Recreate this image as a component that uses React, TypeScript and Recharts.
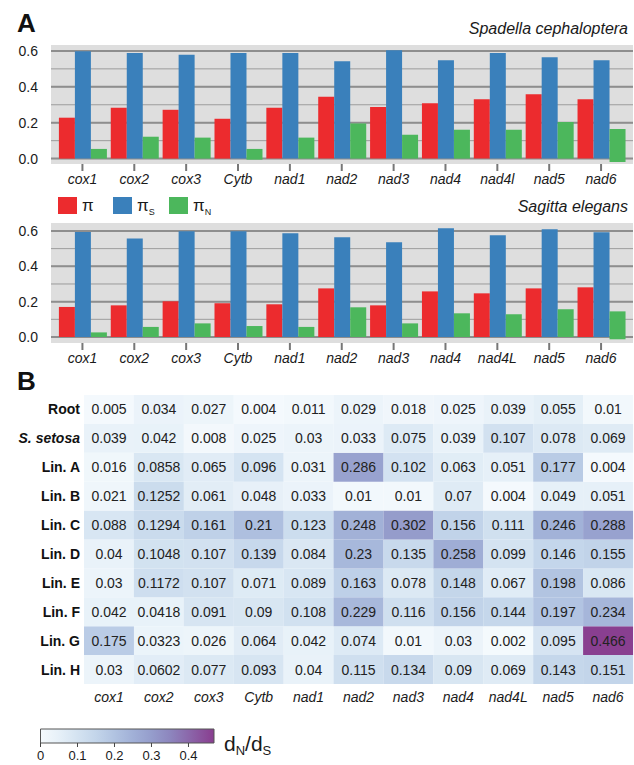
import React from 'react';
import { BarChart, Bar, XAxis, YAxis, CartesianGrid, Cell, LabelList } from 'recharts';

// ---------- Panel A data ----------
const genesSC = ['cox1', 'cox2', 'cox3', 'Cytb', 'nad1', 'nad2', 'nad3', 'nad4', 'nad4l', 'nad5', 'nad6'];
const piSC = [0.228, 0.283, 0.272, 0.222, 0.283, 0.344, 0.287, 0.309, 0.331, 0.359, 0.331];
const piSSC = [0.598, 0.589, 0.578, 0.589, 0.589, 0.543, 0.604, 0.548, 0.589, 0.565, 0.548];
const piNSC = [0.054, 0.122, 0.117, 0.054, 0.117, 0.196, 0.133, 0.161, 0.161, 0.204, 0.165];
const piNBaseSC = [0, 0, 0, -0.006, 0, 0, 0, 0, 0, 0, -0.019];

const genesSE = ['cox1', 'cox2', 'cox3', 'Cytb', 'nad1', 'nad2', 'nad3', 'nad4', 'nad4L', 'nad5', 'nad6'];
const piSE = [0.170, 0.179, 0.202, 0.191, 0.185, 0.275, 0.179, 0.258, 0.247, 0.275, 0.281];
const piSSE = [0.594, 0.558, 0.598, 0.598, 0.587, 0.564, 0.536, 0.615, 0.575, 0.609, 0.592];
const piNSE = [0.026, 0.057, 0.077, 0.062, 0.057, 0.168, 0.077, 0.134, 0.128, 0.157, 0.145];
const piNBaseSE = [0, 0, 0, 0, 0, 0, 0, 0, 0, 0, -0.013];

const yTicksA = [0, 0.1, 0.2, 0.3, 0.4, 0.5, 0.6];
const yMajorA = [0, 0.2, 0.4, 0.6];

const seriesA = [
  { key: 'pi', name: 'π', sub: '', color: '#ec2b2e' },
  { key: 'piS', name: 'π', sub: 'S', color: '#3a80bb' },
  { key: 'piN', name: 'π', sub: 'N', color: '#4cb75c' },
];

// ---------- Panel B data ----------
const genesB = ['cox1', 'cox2', 'cox3', 'Cytb', 'nad1', 'nad2', 'nad3', 'nad4', 'nad4L', 'nad5', 'nad6'];
const rowNames = ['Root', 'S. setosa', 'Lin. A', 'Lin. B', 'Lin. C', 'Lin. D', 'Lin. E', 'Lin. F', 'Lin. G', 'Lin. H'];
const rowRoot = [0.005, 0.034, 0.027, 0.004, 0.011, 0.029, 0.018, 0.025, 0.039, 0.055, 0.01];
const rowSsetosa = [0.039, 0.042, 0.008, 0.025, 0.03, 0.033, 0.075, 0.039, 0.107, 0.078, 0.069];
const rowLinA = [0.016, 0.0858, 0.065, 0.096, 0.031, 0.286, 0.102, 0.063, 0.051, 0.177, 0.004];
const rowLinB = [0.021, 0.1252, 0.061, 0.048, 0.033, 0.01, 0.01, 0.07, 0.004, 0.049, 0.051];
const rowLinC = [0.088, 0.1294, 0.161, 0.21, 0.123, 0.248, 0.302, 0.156, 0.111, 0.246, 0.288];
const rowLinD = [0.04, 0.1048, 0.107, 0.139, 0.084, 0.23, 0.135, 0.258, 0.099, 0.146, 0.155];
const rowLinE = [0.03, 0.1172, 0.107, 0.071, 0.089, 0.163, 0.078, 0.148, 0.067, 0.198, 0.086];
const rowLinF = [0.042, 0.0418, 0.091, 0.09, 0.108, 0.229, 0.116, 0.156, 0.144, 0.197, 0.234];
const rowLinG = [0.175, 0.0323, 0.026, 0.064, 0.042, 0.074, 0.01, 0.03, 0.002, 0.095, 0.466];
const rowLinH = [0.03, 0.0602, 0.077, 0.093, 0.04, 0.115, 0.134, 0.09, 0.069, 0.143, 0.151];
const rowsB = [rowRoot, rowSsetosa, rowLinA, rowLinB, rowLinC, rowLinD, rowLinE, rowLinF, rowLinG, rowLinH];

const scaleMax = 0.469;
const scaleTicks = [0, 0.1, 0.2, 0.3, 0.4];
const cmapStops: [number, string][] = [
  [0, '#f5fafd'], [0.05, '#e6f0f8'], [0.1, '#d4e3f1'], [0.15, '#c3d5ea'], [0.2, '#b1c3e1'],
  [0.25, '#a1b0d7'], [0.3, '#959dcc'], [0.35, '#8d86be'], [0.4, '#8b68ab'], [0.469, '#893d8f'],
];

function hexToRgb(h: string) {
  return [parseInt(h.slice(1, 3), 16), parseInt(h.slice(3, 5), 16), parseInt(h.slice(5, 7), 16)];
}
function colorFor(v: number) {
  if (v <= cmapStops[0][0]) return cmapStops[0][1];
  for (let i = 1; i < cmapStops.length; i++) {
    const [v1, c1] = cmapStops[i];
    const [v0, c0] = cmapStops[i - 1];
    if (v <= v1) {
      const t = (v - v0) / (v1 - v0);
      const a = hexToRgb(c0), b = hexToRgb(c1);
      const r = a.map((x, k) => Math.round(x + (b[k] - x) * t));
      return `rgb(${r[0]},${r[1]},${r[2]})`;
    }
  }
  return cmapStops[cmapStops.length - 1][1];
}

const FONT = '"Liberation Sans", Arial, Helvetica, sans-serif';
const TXT = '#1a1a1a';

function PiChart(props: any) {
  const { genes, pi, piS, piN, piNBase, domain, top, height, marginTop } = props;
  const data = genes.map((g: string, i: number) => ({ gene: g, pi: pi[i], piS: piS[i], piN: [piNBase[i], piN[i]] }));
  return (
    <div style={{ position: 'absolute', left: 0, top }}>
      <BarChart width={634} height={height} data={data} margin={{ top: marginTop, right: 1, bottom: 0, left: 0 }}
        barCategoryGap={2.4} barGap={0}>
        <CartesianGrid vertical={false} horizontalValues={yTicksA} fill="#dedede" fillOpacity={1} stroke="#9c9c9c" strokeWidth={1} />
        <CartesianGrid vertical={false} horizontalValues={yMajorA} stroke="#8e8e8e" strokeWidth={2} />
        <XAxis dataKey="gene" interval={0} padding={{ left: 5.5, right: 6 }} height={24} axisLine={false}
          tickSize={7} tickMargin={3} tickLine={{ stroke: '#777', strokeWidth: 2 }}
          tick={{ fontSize: 14, fontStyle: 'italic', fill: TXT, fontFamily: FONT }} />
        <YAxis type="number" domain={domain} allowDataOverflow ticks={yTicksA} width={51} axisLine={false}
          tickLine={false} tickSize={0} tickMargin={13}
          tickFormatter={(v: number) => (Math.round(v * 10) % 2 === 0 ? v.toFixed(1) : '')}
          tick={{ fontSize: 14, fill: TXT, fontFamily: FONT }} />
        {seriesA.map((s) => (
          <Bar key={s.key} dataKey={s.key} fill={s.color} isAnimationActive={false} />
        ))}
      </BarChart>
    </div>
  );
}

function Legend() {
  const xs = [58, 113, 169];
  return (
    <>
      {seriesA.map((s, i) => (
        <div key={s.key} style={{ position: 'absolute', left: xs[i], top: 197, height: 17, display: 'flex', alignItems: 'flex-start' }}>
          <div style={{ width: 19, height: 17, background: s.color }} />
          <div style={{ marginLeft: 5, fontSize: 17, lineHeight: '17px', color: TXT, fontFamily: FONT, whiteSpace: 'nowrap' }}>
            {s.name}{s.sub && <span style={{ fontSize: 9, lineHeight: '9px', verticalAlign: '-4px' }}>{s.sub}</span>}
          </div>
        </div>
      ))}
    </>
  );
}

function HeatCellLabel(props: any) {
  const { x, y, width, height, value } = props;
  return (
    <text x={x + width / 2} y={y + height / 2} textAnchor="middle" dominantBaseline="central"
      fontSize={14} fill="#222" fontFamily={FONT}>{String(value)}</text>
  );
}

function RowTick(props: any) {
  const { x, y, payload } = props;
  const name = rowNames[rowNames.length - 1 - Math.floor(payload.value)];
  return (
    <text x={x} y={y} textAnchor="end" dominantBaseline="central" fontSize={14} fontWeight="bold"
      fontStyle={name.startsWith('S.') ? 'italic' : 'normal'} fill="#111" fontFamily={FONT}>{name}</text>
  );
}

function Heatmap() {
  const data = genesB.map((g, i) => {
    const o: any = { gene: g };
    rowsB.forEach((row, r) => { o[`k${r}`] = 1; o[`v${r}`] = row[i]; });
    return o;
  });
  const stackOrder = rowsB.map((_, r) => r).reverse();
  const rowTicks = rowNames.map((_, i) => i + 0.5);
  return (
    <div style={{ position: 'absolute', left: 0, top: 380 }}>
      <BarChart width={634} height={330} data={data} margin={{ top: 15, right: 1, bottom: 0, left: 0 }}
        barCategoryGap={0} barGap={0}>
        <XAxis dataKey="gene" interval={0} height={26} axisLine={false} tickLine={false} tickSize={0} tickMargin={8}
          tick={{ fontSize: 14, fontStyle: 'italic', fill: TXT, fontFamily: FONT }} />
        <YAxis type="number" domain={[0, rowNames.length]} ticks={rowTicks} width={84} axisLine={false}
          tickLine={false} tickSize={0} tickMargin={4} tick={<RowTick />} />
        {stackOrder.map((r) => (
          <Bar key={r} dataKey={`k${r}`} stackId="h" isAnimationActive={false}>
            {data.map((d, i) => (
              <Cell key={i} fill={colorFor(d[`v${r}`])} />
            ))}
            <LabelList dataKey={`v${r}`} content={<HeatCellLabel />} />
          </Bar>
        ))}
      </BarChart>
    </div>
  );
}

function ColorBar() {
  const data = [{ name: 'scale', v: scaleMax }];
  return (
    <div style={{ position: 'absolute', left: 0, top: 722 }}>
      <BarChart width={260} height={43} data={data} layout="vertical"
        margin={{ top: 7, right: 46, bottom: 0, left: 40.5 }} barCategoryGap={0}>
        <defs>
          <linearGradient id="bupuGrad" x1="0" y1="0" x2="1" y2="0">
            {cmapStops.map(([v, c]) => (
              <stop key={v} offset={`${(v / scaleMax) * 100}%`} stopColor={c} />
            ))}
          </linearGradient>
        </defs>
        <XAxis type="number" domain={[0, scaleMax]} ticks={scaleTicks} height={22} axisLine={false}
          tickSize={4} tickMargin={4} tickLine={{ stroke: '#444', strokeWidth: 1 }}
          tickFormatter={(v: number) => (v === 0 ? '0' : String(v))}
          tick={{ fontSize: 13, fill: TXT, fontFamily: FONT }} />
        <YAxis type="category" dataKey="name" hide />
        <Bar dataKey="v" fill="url(#bupuGrad)" stroke="#555" strokeWidth={1} isAnimationActive={false} />
      </BarChart>
    </div>
  );
}

export default function App() {
  return (
    <div style={{ position: 'absolute', left: 0, top: 0, width: 634, height: 765, background: '#fff', fontFamily: FONT, overflow: 'hidden' }}>
      <div style={{ position: 'absolute', left: 17, top: 10, fontSize: 26, lineHeight: '26px', fontWeight: 'bold', color: '#111' }}>A</div>
      <div style={{ position: 'absolute', right: 6, top: 20.5, fontSize: 16, lineHeight: '16px', fontStyle: 'italic', color: TXT }}>Spadella cephaloptera</div>
      <PiChart genes={genesSC} pi={piSC} piS={piSSC} piN={piNSC} piNBase={piNBaseSC}
        domain={[-0.03, 0.633]} top={0} height={188} marginTop={45} />
      <Legend />
      <div style={{ position: 'absolute', right: 6, top: 198.5, fontSize: 16, lineHeight: '16px', fontStyle: 'italic', color: TXT }}>Sagitta elegans</div>
      <PiChart genes={genesSE} pi={piSE} piS={piSSE} piN={piNSE} piNBase={piNBaseSE}
        domain={[-0.034, 0.645]} top={190} height={177} marginTop={33} />
      <div style={{ position: 'absolute', left: 17, top: 368, fontSize: 26, lineHeight: '26px', fontWeight: 'bold', color: '#111' }}>B</div>
      <Heatmap />
      <ColorBar />
      <div style={{ position: 'absolute', left: 224, top: 733, fontSize: 21, lineHeight: '21px', color: TXT, whiteSpace: 'nowrap' }}>
        d<span style={{ fontSize: 13, verticalAlign: '-4px' }}>N</span>/d<span style={{ fontSize: 13, verticalAlign: '-4px' }}>S</span>
      </div>
    </div>
  );
}
